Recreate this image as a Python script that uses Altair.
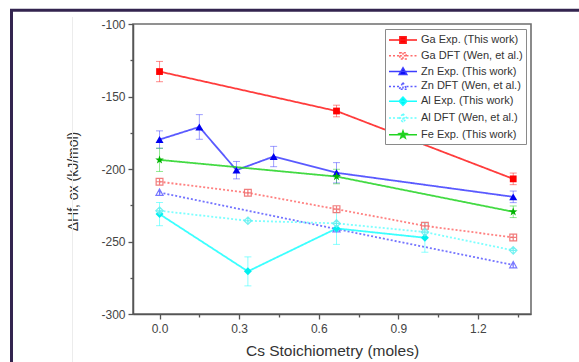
import altair as alt
import pandas as pd

# ---------------- data ----------------
series = [
    "Ga Exp. (This work)",
    "Ga DFT (Wen, et al.)",
    "Zn Exp. (This work)",
    "Zn DFT (Wen, et al.)",
    "Al Exp. (This work)",
    "Al DFT (Wen, et al.)",
    "Fe Exp. (This work)",
]

ga_exp_x = [0.0, 0.667, 1.333]
ga_exp_y = [-132.8, -160.0, -206.8]
ga_exp_err = [7.0, 4.0, 4.0]

ga_dft_x = [0.0, 0.333, 0.667, 1.0, 1.333]
ga_dft_y = [-208.8, -216.4, -227.7, -239.2, -247.2]

zn_exp_x = [0.0, 0.15, 0.29, 0.43, 0.667, 1.333]
zn_exp_y = [-179.7, -171.0, -200.8, -191.4, -202.6, -219.2]
zn_exp_err = [6.0, 8.5, 6.0, 7.0, 7.0, 4.0]

zn_dft_x = [0.0, 0.667, 1.333]
zn_dft_y = [-216.2, -241.4, -266.2]

al_exp_x = [0.0, 0.333, 0.667, 1.0]
al_exp_y = [-231.1, -270.6, -241.0, -247.4]
al_exp_err = [8.0, 10.0, 11.0, 10.0]

al_dft_x = [0.0, 0.333, 0.667, 1.0, 1.333]
al_dft_y = [-228.8, -235.7, -237.5, -243.5, -256.1]

fe_exp_x = [0.0, 0.667, 1.333]
fe_exp_y = [-193.7, -205.2, -229.5]
fe_exp_err = [8.0, 5.0, 4.0]

x_ticks = [0.0, 0.3, 0.6, 0.9, 1.2]
x_minor = [0.15, 0.45, 0.75, 1.05, 1.35]
y_ticks = [-300, -250, -200, -150, -100]
y_minor = [-275, -225, -175, -125]

# ---------------- styles ----------------
line_colors = ["#ff1a1a", "#ff6b6b", "#3d3dff", "#5c5cff", "#1affff", "#66ffff", "#22d422"]
mark_colors = ["#ff0000", "#f07070", "#0000f0", "#6a6aff", "#00f0f0", "#66f0f0", "#00b400"]
legend_fill = ["#ff0000", "#ffffff", "#0000f0", "#ffffff", "#00f0f0", "#ffffff", "#00b400"]
dash = [[1, 0], [2, 2], [1, 0], [2, 2], [1, 0], [2, 2], [1, 0]]


def star(cx, cy, r):
    outer = [(0, -1), (0.951, -0.309), (0.588, 0.809), (-0.588, 0.809), (-0.951, -0.309)]
    inner = [(0.235, -0.324), (0.380, 0.124), (0, 0.4), (-0.380, 0.124), (-0.235, -0.324)]
    pts = []
    for o, i in zip(outer, inner):
        pts += [o, i]
    return "M" + "L".join(f"{cx + r * px:.3f},{cy + r * py:.3f}" for px, py in pts) + "Z"


sq = "M0.55,-0.45H1.45V0.45H0.55Z"
tri = "M1,-0.55L1.55,0.42H0.45Z"
dia = "M1,-0.6L1.55,0L1,0.6L0.45,0Z"
full = "M-1,0H3"
gap = "M-1,0H0.5M1.5,0H3"
legend_paths = [
    full + sq,
    gap + sq + "M1,-0.45V0.45M0.55,0H1.45",
    full + tri,
    gap + tri + "M1,-0.55V0.42",
    full + dia,
    gap + dia + "M1,-0.6V0.6M0.45,0H1.55",
    full + star(1, 0, 0.55),
]

marker_shapes = [
    "square",
    "M-1,-1H1V1H-1ZM0,-1V1M-1,0H1",
    "triangle-up",
    "M0,-1L1,0.8H-1ZM0,-1V0.8",
    "diamond",
    "M0,-1L1,0L0,1L-1,0ZM0,-1V1M-1,0H1",
    star(0, 0, 1),
]
marker_sizes = [46, 46, 64, 50, 64, 56, 80]
marker_open = [False, True, False, True, False, True, False]

# ---------------- table ----------------
groups = [
    (ga_exp_x, ga_exp_y, ga_exp_err),
    (ga_dft_x, ga_dft_y, None),
    (zn_exp_x, zn_exp_y, zn_exp_err),
    (zn_dft_x, zn_dft_y, None),
    (al_exp_x, al_exp_y, al_exp_err),
    (al_dft_x, al_dft_y, None),
    (fe_exp_x, fe_exp_y, fe_exp_err),
]
rows = []
for name, (xs, ys, es) in zip(series, groups):
    for k, (xv, yv) in enumerate(zip(xs, ys)):
        e = es[k] if es else 0.0
        rows.append({"series": name, "x": xv, "y": yv, "err": e, "lo": yv - e, "hi": yv + e})
df = pd.DataFrame(rows)

xs_scale = alt.Scale(domain=[-0.1, 1.4], nice=False, zero=False)
ys_scale = alt.Scale(domain=[-300, -100], nice=False, zero=False)
stroke_scale = alt.Scale(domain=series, range=line_colors)
dash_scale = alt.Scale(domain=series, range=dash)

FONT = "Liberation Sans"

x_main = alt.Axis(values=x_ticks, labelExpr="format(datum.value, '.1f')", tickSize=5, labelPadding=4,
                  title="Cs Stoichiometry (moles)", titleFontSize=15.5, titleFontWeight="normal",
                  titlePadding=9, orient="bottom")
y_main = alt.Axis(values=y_ticks, labelExpr="'' + datum.value", tickSize=5, labelPadding=3,
                  title="ΔHf, ox (kJ/mol)", titleFontSize=14, titleFontWeight="normal",
                  titleX=-53, titleY=157, orient="left")


def build(legend_extra):
    base = alt.Chart(df)

    frame = alt.Chart(pd.DataFrame({"k": [0]})).mark_rect(
        fillOpacity=0, stroke="#33244f", strokeWidth=3
    ).encode(x=alt.value(-121.5), x2=alt.value(700), y=alt.value(-13.8), y2=alt.value(500))

    faint = alt.Chart(pd.DataFrame({"k": [0]})).mark_rule(stroke="#ececec", strokeWidth=1).encode(
        x=alt.value(-60.5), y=alt.value(-7), y2=alt.value(500)
    )

    leg = alt.Legend(
        title=None, orient="top-right", offset=5, padding=3, strokeColor="#8a8a8a", fillColor="#ffffff",
        labelFont=FONT, labelFontSize=11, labelColor="#333333", labelOffset=17,
        symbolSize=196, symbolStrokeWidth=1.5, symbolOpacity=1, rowPadding=0.8, labelLimit=200,
        **legend_extra,
    )
    legend_layer = base.mark_point(opacity=0).encode(
        x=alt.X("x:Q", scale=xs_scale, axis=None),
        y=alt.Y("y:Q", scale=ys_scale, axis=None),
        shape=alt.Shape("series:N", scale=alt.Scale(domain=series, range=legend_paths), legend=leg),
        stroke=alt.Stroke("series:N", scale=stroke_scale, legend=leg),
        fill=alt.Fill("series:N", scale=alt.Scale(domain=series, range=legend_fill), legend=leg),
        strokeDash=alt.StrokeDash("series:N", scale=dash_scale, legend=leg),
    )

    lines = base.mark_line(strokeWidth=1.8, opacity=0.85).encode(
        x=alt.X("x:Q", scale=xs_scale, axis=x_main),
        y=alt.Y("y:Q", scale=ys_scale, axis=y_main),
        stroke=alt.Stroke("series:N", scale=stroke_scale),
        strokeDash=alt.StrokeDash("series:N", scale=dash_scale),
        detail="series:N",
    )

    minor = base.mark_point(opacity=0).encode(
        x=alt.X("x:Q", scale=xs_scale, axis=alt.Axis(values=x_minor, labels=False, tickSize=3, domain=False,
                                                      title=None, orient="bottom")),
        y=alt.Y("y:Q", scale=ys_scale, axis=alt.Axis(values=y_minor, labels=False, tickSize=3, domain=False,
                                                      title=None, orient="left")),
    )

    errs = base.transform_filter(alt.datum.err > 0)
    err_rule = errs.mark_rule(strokeWidth=1, opacity=0.5).encode(
        x=alt.X("x:Q", scale=xs_scale, axis=None),
        y=alt.Y("lo:Q", scale=ys_scale, axis=None),
        y2="hi:Q",
        stroke=alt.Stroke("series:N", scale=stroke_scale),
    )
    cap_color = alt.Color("series:N", scale=alt.Scale(domain=series, range=line_colors), legend=None)
    cap_lo = errs.mark_tick(orient="horizontal", size=7, thickness=1, opacity=0.5).encode(
        x=alt.X("x:Q", scale=xs_scale, axis=None),
        y=alt.Y("lo:Q", scale=ys_scale, axis=None),
        color=cap_color,
    )
    cap_hi = errs.mark_tick(orient="horizontal", size=7, thickness=1, opacity=0.5).encode(
        x=alt.X("x:Q", scale=xs_scale, axis=None),
        y=alt.Y("hi:Q", scale=ys_scale, axis=None),
        color=cap_color,
    )

    point_layers = []
    for i, name in enumerate(series):
        if marker_open[i]:
            m = alt.Chart(df).transform_filter(alt.datum.series == name).mark_point(
                shape=marker_shapes[i], size=marker_sizes[i], filled=False, fill="#ffffff", fillOpacity=0.5,
                stroke=mark_colors[i], strokeWidth=1.2, opacity=0.9,
            )
        else:
            m = alt.Chart(df).transform_filter(alt.datum.series == name).mark_point(
                shape=marker_shapes[i], size=marker_sizes[i], filled=True, color=mark_colors[i], opacity=1,
            )
        point_layers.append(m.encode(
            x=alt.X("x:Q", scale=xs_scale, axis=None),
            y=alt.Y("y:Q", scale=ys_scale, axis=None),
        ))

    return alt.layer(
        frame, faint, legend_layer, lines, minor, err_rule, cap_lo, cap_hi, *point_layers
    ).resolve_axis(x="independent", y="independent").properties(
        width=398, height=290,
        padding={"left": 133, "top": 24, "right": 48, "bottom": 48},
        autosize=alt.AutoSizeParams(type="none"),
        background="#ffffff",
    ).configure_view(
        stroke="#6e6e6e", strokeWidth=1.6
    ).configure_axis(
        grid=False, domainColor="#555555", domainWidth=1.5, tickColor="#555555", tickWidth=1.3,
        labelFont=FONT, labelFontSize=12, labelColor="#444444",
        titleFont=FONT, titleColor="#333333",
    )


try:
    chart = build({"strokeWidth": 1.5})
    chart.to_dict()
except Exception:
    chart = build({})

chart.save("out.html", embed_options={"renderer": "svg", "actions": False})
